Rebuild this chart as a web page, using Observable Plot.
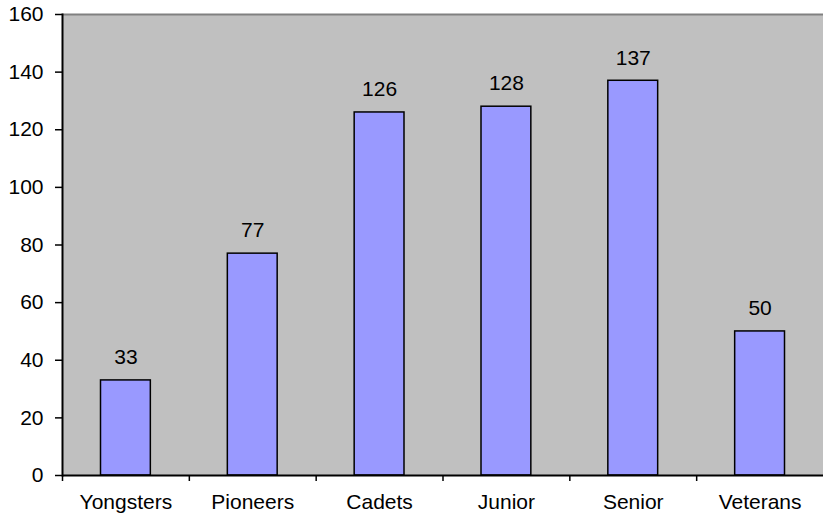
<!DOCTYPE html>
<html>
<head>
<meta charset="utf-8">
<script src="https://cdn.jsdelivr.net/npm/d3@7"></script>
<script src="https://cdn.jsdelivr.net/npm/@observablehq/plot@0.6"></script>
<style>
  html, body { margin: 0; padding: 0; background: #ffffff; }
</style>
</head>
<body>
<div id="chart"></div>
<script>
const categories = ["Yongsters", "Pioneers", "Cadets", "Junior", "Senior", "Veterans"];
const values = [33, 77, 126, 128, 137, 50];
const yTicks = [0, 20, 40, 60, 80, 100, 120, 140, 160];

const data = categories.map((c, i) => ({category: c, value: values[i]}));

const W = 823, H = 520, ML = 62, MR = 0, MT = 14, MB = 45;
const halfBand = (W - ML - MR) / categories.length / 2;

const chart = Plot.plot({
  width: W,
  height: H,
  marginLeft: ML,
  marginRight: MR,
  marginTop: MT,
  marginBottom: MB,
  style: {fontFamily: "'Liberation Sans', Arial, sans-serif", fontSize: "21px", background: "#ffffff", color: "#000000", overflow: "visible"},
  x: {domain: categories, padding: 0, round: false, axis: null, label: null},
  y: {domain: [0, 160], axis: null, label: null},
  marks: [
    Plot.frame({fill: "#C0C0C0", stroke: null}),
    Plot.ruleY([160], {stroke: "#808080", strokeWidth: 2}),
    Plot.barY(data, {x: "category", y: "value", fill: "#9999FF", stroke: "#000000", strokeWidth: 1.5, insetLeft: 38.5, insetRight: 38.5}),
    Plot.text(data, {x: "category", y: "value", text: d => String(d.value), dy: -23, fill: "#000000", fontSize: 21}),
    Plot.frame({anchor: "left", stroke: "#000000", strokeWidth: 2}),
    Plot.ruleY([0], {stroke: "#000000", strokeWidth: 2}),
    Plot.axisY({ticks: yTicks, tickSize: 7, tickPadding: 12, tickFormat: d => String(d), fontSize: 21, stroke: "#000000", strokeWidth: 1.5, label: null}),
    Plot.axisX({tickSize: 6, text: null, dx: -halfBand, stroke: "#000000", strokeWidth: 1.5, label: null}),
    Plot.axisX({tickSize: 0, tickPadding: 19, fontSize: 21, label: null})
  ]
});
document.getElementById("chart").appendChild(chart);
</script>
</body>
</html>
